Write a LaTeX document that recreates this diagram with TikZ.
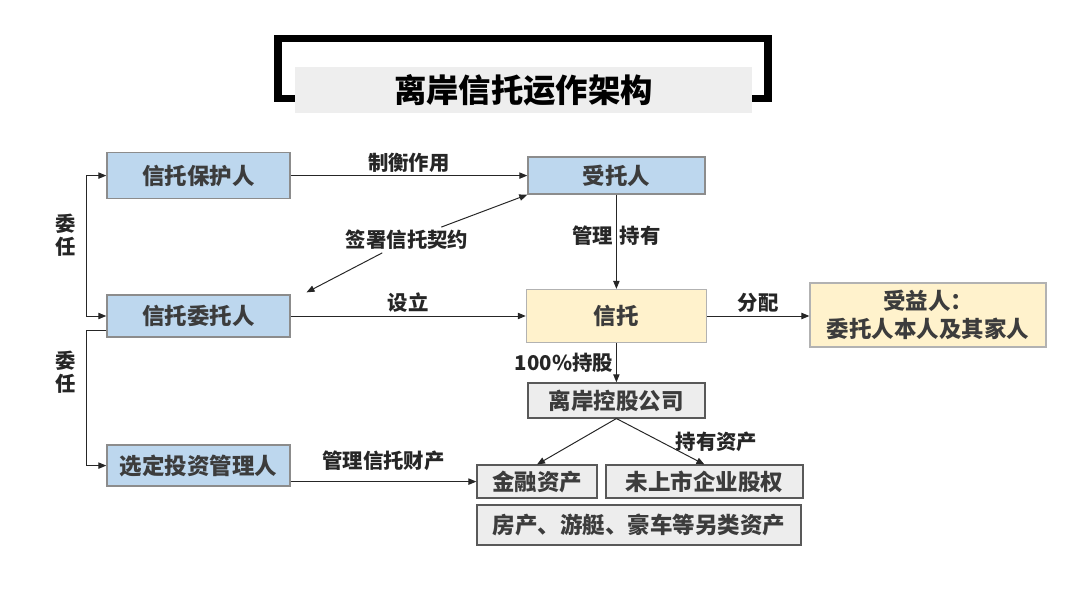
\documentclass[tikz,border=0pt]{standalone}
\usepackage{fontspec}
\setmainfont{Noto Sans CJK SC}
\usepackage{tikz}
\usetikzlibrary{arrows.meta,positioning}
\definecolor{roleblue}{RGB}{189,215,238}
\definecolor{trustyellow}{RGB}{255,242,204}
\definecolor{assetgray}{RGB}{237,237,237}
\definecolor{titlegray}{RGB}{238,238,238}
\definecolor{edgegray}{RGB}{140,140,140}
\definecolor{inkgray}{RGB}{60,60,60}
\tikzset{
  >={Triangle[length=2mm,width=1.6mm]},
  box/.style={draw=edgegray, line width=0.9pt, inner sep=2pt,
              align=center, text=inkgray,
              font=\fontsize{16}{20}\selectfont\bfseries},
  rolebox/.style={box, fill=roleblue},
  trustbox/.style={box, fill=trustyellow, draw=black!30},
  assetbox/.style={box, fill=assetgray, draw=black!65},
  lab/.style={font=\fontsize{14.5}{16.5}\selectfont\bfseries,
              text=black!85, inner sep=2pt},
  flow/.style={->, line width=0.7pt, black!85},
}

\begin{document}
\begin{tikzpicture}[x=1cm,y=1cm]
  \path[use as bounding box] (0,0) rectangle (27,14.75);

  \node[fill=titlegray, minimum width=11.425cm, minimum height=1.15cm,
        font=\fontsize{23}{27}\selectfont\bfseries] (TITLE) at (13.09,12.5)
    {离岸信托运作架构};
  \draw[line width=5pt] (TITLE.west |- 0,12.29) -- (6.95,12.29) -- (6.95,13.79)
    -- (19.2,13.79) -- (19.2,12.29) -- (TITLE.east |- 0,12.29);

  \node[rolebox, minimum width=4.575cm, minimum height=1.15cm] (PROT) at (4.96,10.36) {信托保护人};
  \node[rolebox, minimum width=4.425cm, minimum height=0.925cm] (TRUSTEE) at (15.41,10.36) {受托人};
  \node[rolebox, minimum width=4.575cm, minimum height=1.05cm] (SETT) at (4.96,6.85) {信托委托人};
  \node[trustbox, minimum width=4.5cm, minimum height=1.325cm] (TRUST) at (15.41,6.85) {信托};
  \node[trustbox, minimum width=5.9cm, minimum height=1.6cm] (BEN) at (23.2,6.875)
    {受益人：\\委托人本人及其家人};
  \node[rolebox, minimum width=4.575cm, minimum height=1.025cm] (MGR) at (4.96,3.11) {选定投资管理人};
  \node[assetbox, minimum width=4.425cm, minimum height=0.875cm] (HOLD) at (15.41,4.74) {离岸控股公司};
  \node[assetbox, minimum width=3.0cm, minimum height=0.825cm] (FIN) at (13.425,2.71) {金融资产};
  \node[assetbox, minimum width=4.925cm, minimum height=0.825cm] (EQ) at (17.61,2.71) {未上市企业股权};
  \node[assetbox, minimum width=8.1cm, minimum height=1.0cm] (ALT) at (15.975,1.625)
    {房产、游艇、豪车等另类资产};

  \draw[flow] (PROT.east) -- (PROT.east -| TRUSTEE.west)
    node[lab, above, midway] {制衡作用};
  \node[lab] (SIGN) at (10.175,8.75) {签署信托契约};
  \draw[flow] (SIGN) -- (TRUSTEE.south west);
  \draw[flow] (SIGN) -- ([xshift=4mm,yshift=0.5mm]SETT.north east);
  \draw[flow] (SETT.east) -- (SETT.east -| TRUST.west)
    node[lab, above, midway] {设立};
  \draw[flow] (TRUSTEE.south) -- (TRUST.north)
    node[lab, left, pos=0.44] {管理} node[lab, right, pos=0.44] {持有};
  \draw[flow] (TRUST.east) -- (TRUST.east -| BEN.west)
    node[lab, above, midway] {分配};
  \draw[flow] (TRUST.south) -- (HOLD.north)
    node[lab, left, midway] {100\%持股};
  \draw[flow] (HOLD.south) -- (FIN.north);
  \draw[flow] (HOLD.south) -- (EQ.north)
    node[lab, right=3mm, midway] {持有资产};

  \node[lab, align=center] (APPT1) at (1.65,8.875) {委\\任};
  \draw[flow, <->] (PROT.west) -- ++(-0.5,0) |- (SETT.west);
  \node[lab, align=center] (APPT2) at (1.65,5.45) {委\\任};
  \draw[flow] ([yshift=-3.5mm]SETT.west) -- ++(-0.5,0) |- (MGR.west);
  \draw[flow] (MGR.east |- FIN.west) -- (FIN.west)
    node[lab, above=2mm, midway] {管理信托财产};
\end{tikzpicture}
\end{document}
